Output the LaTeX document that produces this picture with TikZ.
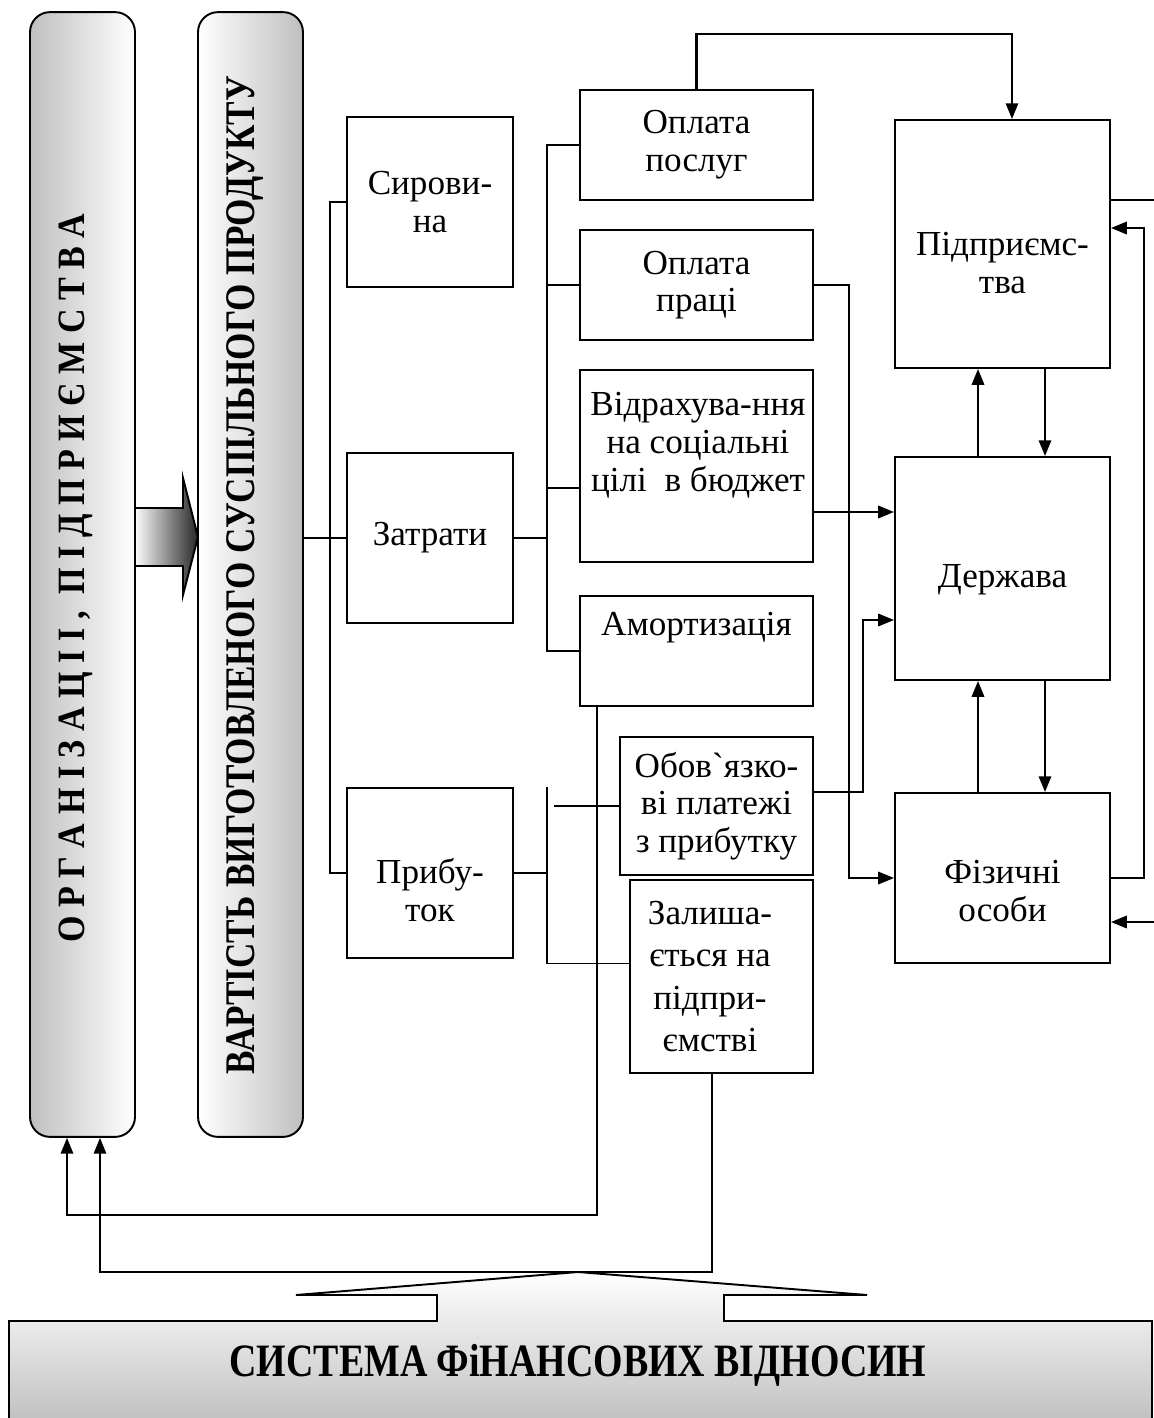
\documentclass[tikz,border=0pt]{standalone}
\usepackage{fontspec}
\setmainfont{Liberation Serif}
\newfontfamily\gravefont{Liberation Serif}
\usetikzlibrary{arrows.meta}

\begin{document}
\begin{tikzpicture}
  [x=0.02cm,y=-0.02cm,line width=1.1pt,
   box/.style={draw,line width=1.1pt,align=center,inner sep=0pt,font=\fontsize{20}{21.5}\selectfont},
   txt/.style={align=center,inner sep=0pt,font=\fontsize{20}{21.5}\selectfont},
   pill/.style={draw,line width=1.1pt,rounded corners=0.4cm,minimum width=2.1cm,minimum height=22.5cm},
   arr/.style={-{Triangle[length=9pt,width=7pt]},line width=1.3pt}]

  \useasboundingbox (0,0) rectangle (1154,1418);
  \clip (0,0) rectangle (1154,1418);

  \node[pill,left color=gray!50,right color=white] (org) at (82.5,574.5) {};
  \node[pill,left color=white,right color=gray!50] (vart) at (250.5,574.5) {};
  \node[rotate=90,font=\fontsize{20}{24}\selectfont\bfseries] (org-t) at (76,578)
    {\scalebox{0.97}[1.1]{О Р Г А Н І З А Ц І І ,\ \ П І Д П Р И Є М С Т В А}};
  \node[rotate=90,font=\fontsize{20}{24}\selectfont\bfseries] (vart-t) at (245,575)
    {\scalebox{1.0}[1.2]{ВАРТІСТЬ ВИГОТОВЛЕНОГО СУСПІЛЬНОГО ПРОДУКТУ}};
  \shade[draw,left color=gray!5,right color=black!85]
    (136,508) -- (183,508) -- (183,478) -- (198,537) -- (183,595) -- (183,566) -- (136,566);

  \node[box,minimum width=3.32cm,minimum height=3.4cm] (syr) at (430,202) {Сирови-\\на};
  \node[box,minimum width=3.32cm,minimum height=3.4cm] (zatr) at (430,538) {Затрати};
  \node[box,minimum width=3.32cm,minimum height=3.4cm] (prib) at (430,873) {};
  \node[txt] (prib-t) at (430,890) {Прибу-\\ток};

  \node[box,minimum width=4.66cm,minimum height=2.2cm] (posl) at (696.5,145) {Оплата\\послуг};
  \node[box,minimum width=4.66cm,minimum height=2.2cm] (prac) at (696.5,285) {Оплата\\праці};
  \node[box,minimum width=4.66cm,minimum height=3.84cm] (vidr) at (696.5,466) {};
  \node[txt] (vidr-t) at (698,445) {Відрахува-ння\\ на соціальні\\цілі\ \ в бюджет};
  \node[box,minimum width=4.66cm,minimum height=2.2cm] (amort) at (696.5,651) {};
  \node[txt] (amort-t) at (696.5,628) {Амортизація};
  \node[box,minimum width=3.86cm,minimum height=2.76cm] (obov) at (716.5,806)
    {Обов{\gravefont`}язко-\\ві платежі\\з прибутку};
  \node[box,minimum width=3.66cm,minimum height=3.86cm] (zal) at (721.5,976.5) {};
  \node[txt,font=\fontsize{20}{24}\selectfont] (zal-t) at (710,976.5)
    {Залиша-\\ється на\\підпри-\\ємстві};

  \node[box,minimum width=4.3cm,minimum height=4.96cm] (pidpr) at (1002.5,244) {};
  \node[txt] (pidpr-t) at (1002.5,263) {Підприємс-\\тва};
  \node[box,minimum width=4.3cm,minimum height=4.46cm] (derzh) at (1002.5,568.5) {};
  \node[txt] (derzh-t) at (1002.5,580) {Держава};
  \node[box,minimum width=4.3cm,minimum height=3.4cm] (fiz) at (1002.5,878) {};
  \node[txt] (fiz-t) at (1002.5,891) {Фізичні\\особи};

  \shade[draw,top color=white,bottom color=gray!55]
    (9,1440) -- (9,1321) -- (437,1321) -- (437,1295) -- (296,1295) -- (578,1272)
    -- (867,1295) -- (724,1295) -- (724,1321) -- (1152,1321) -- (1152,1440);
  \node[font=\fontsize{22}{26}\selectfont\bfseries] (sys) at (578,1365)
    {\scalebox{0.98}[1.2]{СИСТЕМА ФіНАНСОВИХ ВІДНОСИН}};

  \coordinate (t1) at (330,0);
  \coordinate (t2) at (547,0);
  \coordinate (r1) at (0,1215);
  \coordinate (r2) at (0,1272);
  \draw (vart.east |- zatr.west) -- (zatr.west);
  \draw (syr.west) -- (syr.west -| t1) -- (prib.west -| t1) -- (prib.west);

  \coordinate (v0) at ([yshift=-0.44cm]vidr.west);
  \draw (zatr.east) -- (zatr.east -| t2);
  \draw (posl.west) -- (posl.west -| t2) -- (amort.west -| t2) -- (amort.west);
  \draw (prac.west -| t2) -- (prac.west);
  \draw (v0 -| t2) -- (v0);

  \coordinate (z0) at ([yshift=0.26cm]zal.west);
  \draw (prib.east) -- (prib.east -| t2);
  \draw (t2 |- prib.north) -- (t2 |- z0) -- (z0);
  \draw (obov.west) -- ++(-65,0);

  \coordinate (a1) at ([xshift=-1.99cm]amort.south);
  \coordinate (z1) at ([xshift=-0.19cm]zal.south);
  \coordinate (o1) at ([xshift=-0.31cm]org.south);
  \coordinate (o2) at ([xshift=0.35cm]org.south);
  \draw[arr] (a1) -- (a1 |- r1) -| (o1);
  \draw[arr] (z1) -- (z1 |- r2) -| (o2);

  \coordinate (p1) at ([xshift=0.19cm]pidpr.north);
  \draw[arr] (posl.north) -- ++(0,-55) -| (p1);
  \draw[arr] ([xshift=-0.49cm]derzh.north) -- ([xshift=-0.49cm]pidpr.south);
  \draw[arr] ([xshift=0.85cm]pidpr.south) -- ([xshift=0.85cm]derzh.north);
  \draw[arr] ([xshift=-0.49cm]fiz.north) -- ([xshift=-0.49cm]derzh.south);
  \draw[arr] ([xshift=0.85cm]derzh.south) -- ([xshift=0.85cm]fiz.north);

  \coordinate (v1) at ([yshift=-0.92cm]vidr.east);
  \coordinate (b1) at ([yshift=0.28cm]obov.east);
  \coordinate (d1) at ([yshift=-1.03cm]derzh.west);
  \coordinate (p2) at ([yshift=0.32cm]pidpr.east);
  \coordinate (f1) at ([yshift=-0.88cm]fiz.east);
  \draw[arr] (v1) -- (v1 -| derzh.west);
  \draw[arr] (prac.east) -- ++(35,0) |- (fiz.west);
  \draw[arr] (b1) -- ++(49,0) |- (d1);
  \draw[arr] (fiz.east) -- ++(33,0) |- (p2);
  \draw ([yshift=0.88cm]pidpr.east) -- ++(44,0);
  \draw[arr] ([xshift=0.88cm]f1) -- (f1);
\end{tikzpicture}
\end{document}
